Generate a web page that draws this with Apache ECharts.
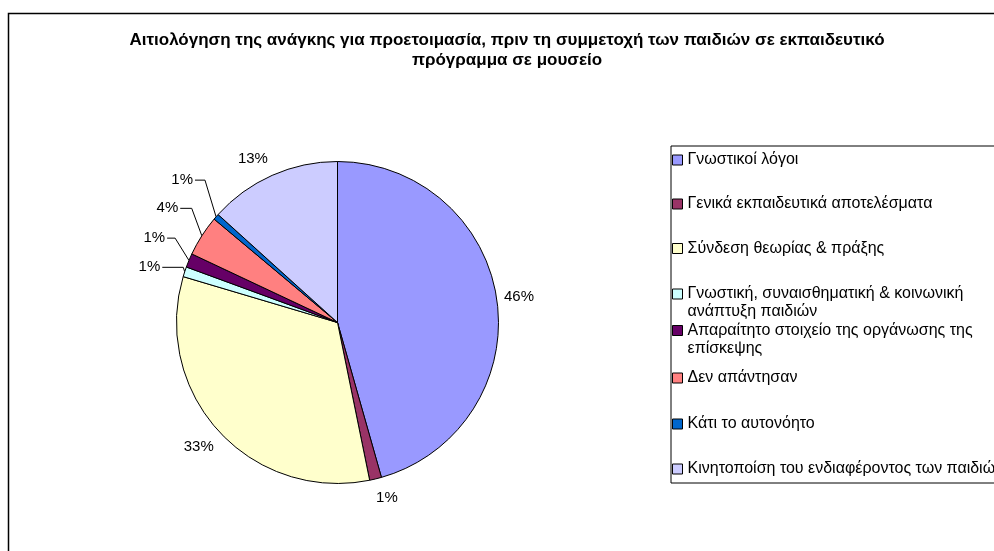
<!DOCTYPE html>
<html>
<head>
<meta charset="utf-8">
<script src="https://cdn.jsdelivr.net/npm/echarts@6/dist/echarts.min.js"></script>
<style>
  html, body { margin: 0; padding: 0; background: #fff; }
  #main { width: 994px; height: 551px; }
</style>
</head>
<body>
<div id="main"></div>
<script>
// categories and their shares (%)
const categories = [
  'Γνωστικοί λόγοι',
  'Γενικά εκπαιδευτικά αποτελέσματα',
  'Σύνδεση θεωρίας & πράξης',
  'Γνωστική, συναισθηματική & κοινωνική ανάπτυξη παιδιών',
  'Απαραίτητο στοιχείο της οργάνωσης της επίσκεψης',
  'Δεν απάντησαν',
  'Κάτι το αυτονόητο',
  'Κινητοποίση του ενδιαφέροντος των παιδιών'
];
const shares = [45.6, 1.2, 32.8, 1.0, 1.4, 4.1, 0.6, 13.3];
const colors = ['#9999FF', '#993366', '#FFFFCC', '#CCFFFF', '#660066', '#FF8080', '#0066CC', '#CCCCFF'];
// legend text as wrapped in the original
const legendText = [
  'Γνωστικοί λόγοι',
  'Γενικά εκπαιδευτικά αποτελέσματα',
  'Σύνδεση θεωρίας & πράξης',
  'Γνωστική, συναισθηματική & κοινωνική\nανάπτυξη παιδιών',
  'Απαραίτητο στοιχείο της οργάνωσης της\nεπίσκεψης',
  'Δεν απάντησαν',
  'Κάτι το αυτονόητο',
  'Κινητοποίση του ενδιαφέροντος των παιδιών'
];
const titleText = 'Αιτιολόγηση της ανάγκης για προετοιμασία, πριν τη συμμετοχή των παιδιών σε εκπαιδευτικό\nπρόγραμμα σε μουσείο';

const FONT = '"Liberation Sans", Arial, sans-serif';

// label placement per slice: leader lengths, gap to text, vertical nudge
const labelCfg = [
  { len: 0, len2: 0, gap: 7, line: false, dy: -3 },
  { len: 19, len2: 0, gap: -4, line: false, dy: 0 },
  { len: 23, len2: 0, gap: -12, line: false, dy: 0 },
  { len: 1.5, len2: 21, gap: 2, line: true, dy: -4 },
  { len: 15, len2: 8, gap: 2, line: true, dy: -16.5 },
  { len: 12, len2: 11.5, gap: 2, line: true, dy: -21 },
  { len: 14.7, len2: 10, gap: 2, line: true, dy: -27 },
  { len: 17.8, len2: 0, gap: -3, line: false, dy: 0 }
];
const legendY = [160, 204, 248.5, 294, 330.5, 378, 424, 469];

const chart = echarts.init(document.getElementById('main'));

const pieData = categories.map((name, i) => ({
  name: name,
  value: shares[i],
  itemStyle: { color: colors[i] },
  label: { distanceToLabelLine: labelCfg[i].gap },
  labelLine: { show: labelCfg[i].line, length: labelCfg[i].len, length2: labelCfg[i].len2 }
}));

// one legend per entry so the spacing follows the original box;
// wrapped entries get an empty first line so the marker sits on line one
const legends = categories.map((name, i) => {
  const twoLine = legendText[i].indexOf('\n') >= 0;
  return {
    data: [name],
    orient: 'vertical',
    left: 672,
    top: legendY[i] - (twoLine ? 27 : 9),
    padding: 0,
    itemGap: 0,
    itemWidth: 10,
    itemHeight: 10,
    icon: 'rect',
    selectedMode: false,
    formatter: () => (twoLine ? '\n' : '') + legendText[i],
    itemStyle: { borderColor: '#000', borderWidth: 1 },
    textStyle: { fontFamily: FONT, fontSize: 16, color: '#000', lineHeight: 18 }
  };
});

const option = {
  backgroundColor: '#fff',
  animation: false,
  title: {
    text: titleText,
    left: 507,
    top: 30,
    textAlign: 'center',
    padding: 0,
    textStyle: { fontFamily: FONT, fontSize: 17, fontWeight: 'bold', color: '#000', lineHeight: 20 }
  },
  legend: legends,
  graphic: [
    {
      type: 'rect', left: 6, top: 11, silent: true,
      shape: { width: 1200, height: 800 },
      style: { fill: null, stroke: '#000', lineWidth: 1.5 }
    },
    {
      type: 'rect', left: 668.5, top: 143.5, silent: true,
      shape: { width: 500, height: 337 },
      style: { fill: null, stroke: '#000', lineWidth: 1 }
    }
  ],
  series: [
    {
      type: 'pie',
      center: [337.5, 322.5],
      radius: 161,
      startAngle: 90,
      clockwise: true,
      avoidLabelOverlap: false,
      data: pieData,
      itemStyle: { borderColor: '#000', borderWidth: 1 },
      emphasis: { disabled: true },
      label: {
        show: true,
        position: 'outside',
        fontFamily: FONT,
        fontSize: 15,
        color: '#000',
        formatter: p => Math.round(p.percent) + '%'
      },
      labelLine: { lineStyle: { color: '#000', width: 1 }, smooth: false },
      labelLayout: function (p) {
        const dy = labelCfg[p.dataIndex].dy;
        if (!dy) return {};
        const out = { dy: dy };
        const pts = p.labelLinePoints;
        if (pts && labelCfg[p.dataIndex].line) {
          out.labelLinePoints = [
            pts[0],
            [pts[1][0], pts[1][1] + dy],
            [pts[2][0], pts[2][1] + dy]
          ];
        }
        return out;
      }
    }
  ]
};

chart.setOption(option);
</script>
</body>
</html>
